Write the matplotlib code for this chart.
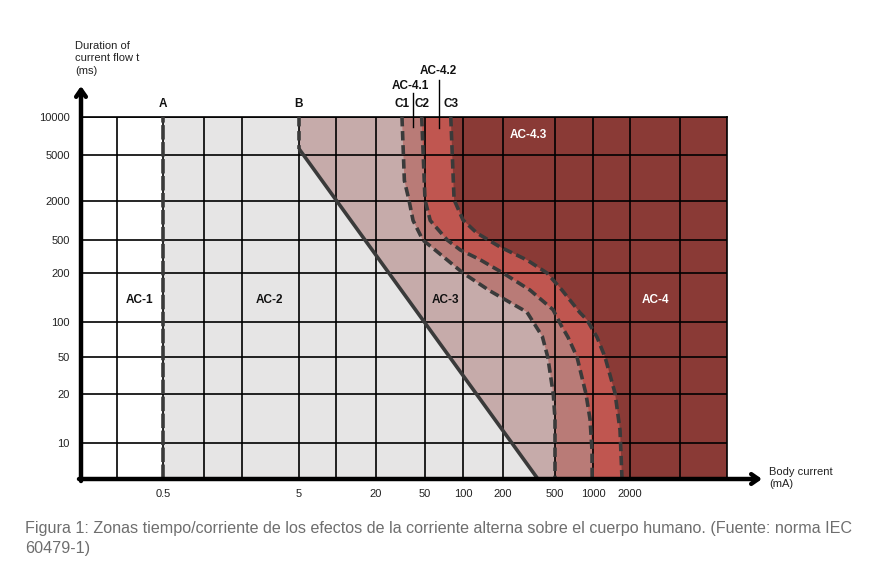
import numpy as np
import matplotlib
matplotlib.use("Agg")
import matplotlib.pyplot as plt

plt.rcParams['font.family'] = ['Liberation Sans', 'DejaVu Sans']

# values (current in mA, time in ms)
x_ticks = [0.5, 5, 20, 50, 100, 200, 500, 1000, 2000]
x_extra = [0.1, 1, 2, 10, 5000]
y_ticks = [10, 20, 50, 100, 200, 500, 2000, 5000, 10000]

line_a = 0.5
b_current = [5, 5, 370]
b_time = [10000, 5600, 5]

c1_current = [32.5, 34, 37, 40, 48, 60, 100, 160, 305, 400, 440, 485, 500, 500]
c1_time = [10000, 3000, 2050, 1000, 500, 380, 200, 155, 115, 75, 50, 20, 14, 5]

c2_current = [47, 50, 55, 75, 95, 134, 200, 322, 483, 558, 634, 747, 880, 947, 982, 985]
c2_time = [10000, 2050, 1000, 500, 380, 290, 200, 157, 119, 94, 74, 50, 20, 14, 8.7, 5]

c3_current = [80, 85, 100, 127, 190, 305, 434, 568, 789, 896, 1078, 1252, 1510, 1659, 1722]
c3_time = [10000, 2050, 1018, 641, 412, 287, 200, 157, 114, 103, 74, 50, 20.5, 12, 5]

zone_labels = ["AC-1", "AC-2", "AC-3", "AC-4"]
zone_x = [0.22, 3.1, 72, 3160]

# the chart is a schematic grid, not a true log scale: piecewise log scale
xk_val = np.log10([0.05, 0.1, 0.5, 1, 2, 5, 10, 20, 50, 100, 200, 500, 1000, 2000, 5000, 10000])
xk_pos = np.array([81, 117, 163, 204, 242, 299, 336, 376, 425, 463, 503, 555, 593, 630, 680, 727], float)
yk_val = np.log10([5, 10, 20, 50, 100, 200, 500, 2000, 5000, 10000])
yk_pos = 569 - np.array([479, 443, 394, 357, 322, 273, 240, 201, 155, 117], float)


def fx(v):
    return np.interp(np.log10(np.clip(v, 1e-6, None)), xk_val, xk_pos)


def ix(p):
    return 10 ** np.interp(p, xk_pos, xk_val)


def fy(v):
    return np.interp(np.log10(np.clip(v, 1e-6, None)), yk_val, yk_pos)


def iy(p):
    return 10 ** np.interp(p, yk_pos, yk_val)


fig = plt.figure(figsize=(8.7, 5.69), dpi=100)
ax = fig.add_axes([81 / 870, 90 / 569, 646 / 870, 362 / 569])
ax.set_xscale('function', functions=(fx, ix))
ax.set_yscale('function', functions=(fy, iy))
ax.set_xlim(0.05, 10000)
ax.set_ylim(5, 10000)

xmax, ymin, ymax = 10000, 5, 10000
gray = '#e6e5e5'
c_ac3 = '#c6abaa'
c_ac41 = '#b97b77'
c_ac42 = '#c05650'
c_ac43 = '#8a3a36'

ax.fill_between([line_a, xmax], ymin, ymax, color=gray, lw=0, zorder=1)
ax.fill(b_current + [xmax, xmax], b_time + [ymin, ymax], color=c_ac3, lw=0, zorder=1)
ax.fill(c1_current + [xmax, xmax], c1_time + [ymin, ymax], color=c_ac41, lw=0, zorder=1)
ax.fill(c2_current + [xmax, xmax], c2_time + [ymin, ymax], color=c_ac42, lw=0, zorder=1)
ax.fill(c3_current + [xmax, xmax], c3_time + [ymin, ymax], color=c_ac43, lw=0, zorder=1)

# grid
ax.set_xticks(x_ticks)
ax.set_xticklabels([str(v) for v in x_ticks])
ax.set_xticks(x_extra, minor=True)
ax.set_yticks(y_ticks)
ax.set_yticklabels([str(v) for v in y_ticks])
ax.set_yticks([], minor=True)
ax.grid(True, which='both', color='black', lw=1.2)
ax.set_axisbelow(False)
ax.tick_params(which='both', length=0, labelsize=8, colors='#222222')
ax.tick_params(axis='y', pad=8)
ax.tick_params(axis='x', pad=7)

for s in ['top', 'right']:
    ax.spines[s].set_linewidth(1.2)
ax.spines['left'].set_visible(False)
ax.spines['bottom'].set_visible(False)

dash = (0, (2.6, 1.3))
dk = '#3a3a3a'
ax.axvline(line_a, color=dk, lw=2.6, ls=(0, (4, 0.7)), zorder=3)
ax.plot(b_current[:2], b_time[:2], color=dk, lw=2.6, ls=dash, zorder=3)
ax.plot(b_current[1:], b_time[1:], color=dk, lw=2.6, zorder=3, solid_capstyle='butt')
for cx, cy in [(c1_current, c1_time), (c2_current, c2_time), (c3_current, c3_time)]:
    ax.plot(cx, cy, color=dk, lw=2.6, ls=dash, zorder=3)

# labels on the chart
trans = ax.get_xaxis_transform()
bold = dict(fontsize=8.5, fontweight='bold', ha='center', va='center', clip_on=False)
for name, xv in [("A", line_a), ("B", b_current[0]), ("C1", c1_current[0]),
                 ("C2", c2_current[0]), ("C3", c3_current[0])]:
    ax.text(xv, 1.036, name, transform=trans, color='#111111', **bold)
ax.text(38, 1.086, "AC-4.1", transform=trans, color='#111111', **bold)
ax.text(64, 1.127, "AC-4.2", transform=trans, color='#111111', **bold)
ax.plot([40, 40], [1.066, 0.972], transform=trans, color='black', lw=1, clip_on=False, zorder=4)
ax.plot([64.5, 64.5], [1.102, 0.970], transform=trans, color='black', lw=1, clip_on=False, zorder=4)

for name, xv in zip(zone_labels, zone_x):
    ax.text(xv, 137, name, color='white' if name == "AC-4" else '#111111', **bold)
ax.text(311, 7200, "AC-4.3", color='white', **bold)

# axes arrows
arrow = dict(arrowstyle='->,head_length=0.5,head_width=0.35', lw=3.2, color='black',
             shrinkA=0, shrinkB=0)
ax.annotate('', xy=(81, 569 - 86), xytext=(81, 569 - 481), xycoords='figure pixels',
            textcoords='figure pixels', arrowprops=arrow)
ax.annotate('', xy=(762, 90), xytext=(79, 90), xycoords='figure pixels',
            textcoords='figure pixels', arrowprops=arrow)

fig.text(75 / 870, 1 - 41 / 569, "Duration of\ncurrent flow t\n(ms)", fontsize=8,
         va='top', ha='left', linespacing=1.3, color='#222222')
fig.text(769 / 870, 1 - 478 / 569, "Body current\n(mA)", fontsize=8,
         va='center', ha='left', linespacing=1.25, color='#222222')

fig.text(25 / 870, 1 - 528 / 569,
         "Figura 1: Zonas tiempo/corriente de los efectos de la corriente alterna sobre el cuerpo humano. (Fuente: norma IEC",
         fontsize=11.6, color='#6e6e6e', va='center', ha='left')
fig.text(25 / 870, 1 - 549 / 569, "60479-1)", fontsize=11.6, color='#6e6e6e', va='center', ha='left')

fig.savefig("out.png", dpi=100)
